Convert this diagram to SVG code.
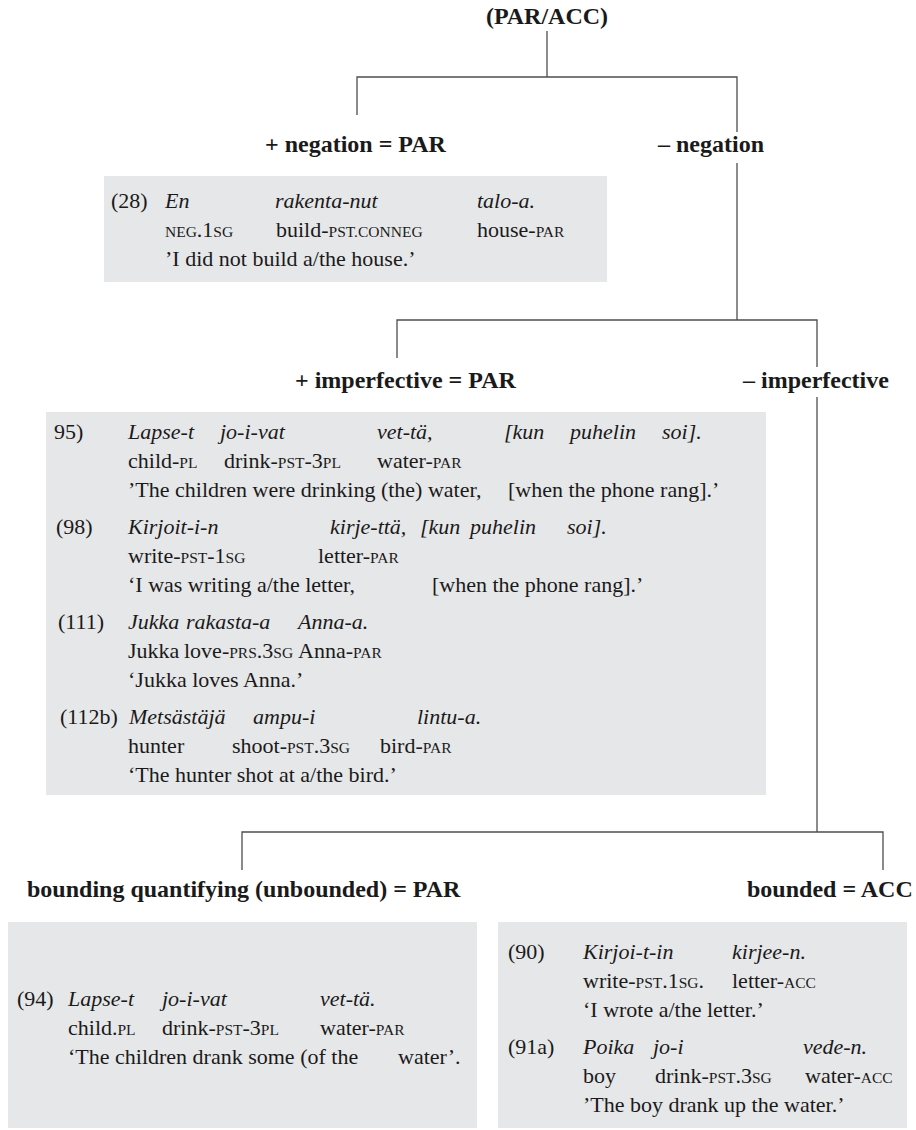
<svg xmlns="http://www.w3.org/2000/svg" width="916" height="1130" viewBox="0 0 916 1130">
<style>
.lbl{font-family:"Liberation Serif","Times New Roman",serif;font-weight:bold;font-size:24px;fill:#1a1a1a}
.t{font-family:"Liberation Serif","Times New Roman",serif;font-size:22px;fill:#1a1a1a}
.i{font-style:italic}
.sc{font-size:15.5px}
.box{fill:#e6e7e8}
.conn{stroke:#4d4d4d;stroke-width:1.3;fill:none}
</style>
<rect width="916" height="1130" fill="#ffffff"/>
<g id="connectors" class="conn">
<path d="M547 31V77"/>
<path d="M357 115V77H737V132"/>
<path d="M737 163V320"/>
<path d="M397 358V320H817V367"/>
<path d="M817 397V832"/>
<path d="M242 870V832H883V870"/>
</g>
<g id="root"><text class="lbl" x="547" y="24" text-anchor="middle">(PAR/ACC)</text></g>
<g id="neg-plus"><text class="lbl" x="265" y="152">+ negation = PAR</text></g>
<g id="neg-minus"><text class="lbl" x="658" y="152">– negation</text></g>
<g id="ex28">
<rect class="box" x="104" y="176" width="503" height="106"/>
<text class="t" x="111" y="208">(28)</text>
<text class="t i" x="165" y="208">En</text>
<text class="t i" x="275" y="208">rakenta-nut</text>
<text class="t i" x="477" y="208">talo-a.</text>
<text class="t" x="165" y="237"><tspan class="sc">NEG</tspan>.1<tspan class="sc">SG</tspan></text>
<text class="t" x="276" y="237">build-<tspan class="sc">PST.CONNEG</tspan></text>
<text class="t" x="477" y="237">house-<tspan class="sc">PAR</tspan></text>
<text class="t" x="165" y="266">’I did not build a/the house.’</text>
</g>
<g id="imp-plus"><text class="lbl" x="295" y="388">+ imperfective = PAR</text></g>
<g id="imp-minus"><text class="lbl" x="743" y="388">– imperfective</text></g>
<g id="ex-imperfective">
<rect class="box" x="46" y="412" width="720" height="383"/>
<text class="t" x="54" y="439">95)</text>
<text class="t i" x="128" y="439">Lapse-t</text>
<text class="t i" x="220" y="439">jo-i-vat</text>
<text class="t i" x="377" y="439">vet-tä,</text>
<text class="t i" x="504" y="439">[kun</text>
<text class="t i" x="570" y="439">puhelin</text>
<text class="t i" x="662" y="439">soi].</text>
<text class="t" x="128" y="468">child-<tspan class="sc">PL</tspan></text>
<text class="t" x="224" y="468">drink-<tspan class="sc">PST</tspan>-3<tspan class="sc">PL</tspan></text>
<text class="t" x="377" y="468">water-<tspan class="sc">PAR</tspan></text>
<text class="t" x="128" y="497">’The children were drinking (the) water,</text>
<text class="t" x="508" y="497">[when the phone rang].’</text>
<text class="t" x="56" y="534">(98)</text>
<text class="t i" x="128" y="534">Kirjoit-i-n</text>
<text class="t i" x="330" y="534">kirje-ttä,</text>
<text class="t i" x="420" y="534">[kun</text>
<text class="t i" x="470" y="534">puhelin</text>
<text class="t i" x="567" y="534">soi].</text>
<text class="t" x="128" y="563">write-<tspan class="sc">PST</tspan>-1<tspan class="sc">SG</tspan></text>
<text class="t" x="318" y="563">letter-<tspan class="sc">PAR</tspan></text>
<text class="t" x="128" y="592">‘I was writing a/the letter,</text>
<text class="t" x="432" y="592">[when the phone rang].’</text>
<text class="t" x="58" y="629">(111)</text>
<text class="t i" x="128" y="629">Jukka</text>
<text class="t i" x="186" y="629">rakasta-a</text>
<text class="t i" x="298" y="629">Anna-a.</text>
<text class="t" x="128" y="658">Jukka</text>
<text class="t" x="184" y="658">love-<tspan class="sc">PRS</tspan>.3<tspan class="sc">SG</tspan></text>
<text class="t" x="298" y="658">Anna-<tspan class="sc">PAR</tspan></text>
<text class="t" x="128" y="687">‘Jukka loves Anna.’</text>
<text class="t" x="60" y="724">(112b)</text>
<text class="t i" x="129" y="724">Metsästäjä</text>
<text class="t i" x="253" y="724">ampu-i</text>
<text class="t i" x="417" y="724">lintu-a.</text>
<text class="t" x="128" y="753">hunter</text>
<text class="t" x="232" y="753">shoot-<tspan class="sc">PST</tspan>.3<tspan class="sc">SG</tspan></text>
<text class="t" x="380" y="753">bird-<tspan class="sc">PAR</tspan></text>
<text class="t" x="128" y="782">‘The hunter shot at a/the bird.’</text>
</g>
<g id="bound-par"><text class="lbl" x="27" y="897">bounding quantifying (unbounded) = PAR</text></g>
<g id="bound-acc"><text class="lbl" x="747" y="897">bounded = ACC</text></g>
<g id="ex94">
<rect class="box" x="8" y="922" width="469" height="206"/>
<text class="t" x="17" y="1006">(94)</text>
<text class="t i" x="68" y="1006">Lapse-t</text>
<text class="t i" x="162" y="1006">jo-i-vat</text>
<text class="t i" x="320" y="1006">vet-tä.</text>
<text class="t" x="68" y="1035">child.<tspan class="sc">PL</tspan></text>
<text class="t" x="162" y="1035">drink-<tspan class="sc">PST</tspan>-3<tspan class="sc">PL</tspan></text>
<text class="t" x="320" y="1035">water-<tspan class="sc">PAR</tspan></text>
<text class="t" x="68" y="1064">‘The children drank some (of the</text>
<text class="t" x="398" y="1064">water’.</text>
</g>
<g id="ex90">
<rect class="box" x="498" y="922" width="409" height="206"/>
<text class="t" x="508" y="959">(90)</text>
<text class="t i" x="583" y="959">Kirjoi-t-in</text>
<text class="t i" x="732" y="959">kirjee-n.</text>
<text class="t" x="583" y="988">write-<tspan class="sc">PST</tspan>.1<tspan class="sc">SG</tspan>.</text>
<text class="t" x="732" y="988">letter-<tspan class="sc">ACC</tspan></text>
<text class="t" x="583" y="1017">‘I wrote a/the letter.’</text>
<text class="t" x="508" y="1054">(91a)</text>
<text class="t i" x="583" y="1054">Poika</text>
<text class="t i" x="653" y="1054">jo-i</text>
<text class="t i" x="803" y="1054">vede-n.</text>
<text class="t" x="583" y="1083">boy</text>
<text class="t" x="655" y="1083">drink-<tspan class="sc">PST</tspan>.3<tspan class="sc">SG</tspan></text>
<text class="t" x="805" y="1083">water-<tspan class="sc">ACC</tspan></text>
<text class="t" x="583" y="1112">’The boy drank up the water.’</text>
</g>
</svg>
